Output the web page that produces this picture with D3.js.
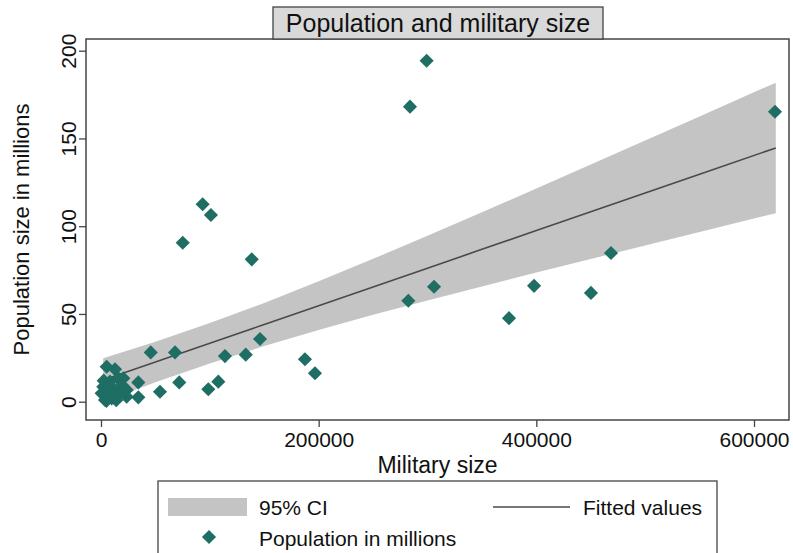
<!DOCTYPE html>
<html>
<head>
<meta charset="utf-8">
<script src="https://cdn.jsdelivr.net/npm/d3@7"></script>
<style>
  body { margin: 0; background: #fff; }
  svg text { font-family: "Liberation Sans", Arial, sans-serif; fill: #111; }
</style>
</head>
<body>
<div id="chart"></div>
<script>
// military size vs population (millions)
const military = [619300, 299200, 283900, 93400, 101000, 75100, 138500, 468600, 397900, 450200,
                  306000, 282400, 374900, 146100, 45700, 68000, 133000, 113900, 187400, 196600,
                  71900, 107800, 98600, 54200, 34300, 34300, 23600, 5200, 12900, 2100,
                  600, 3700, 8300, 11300, 9800, 15900, 19000, 17500, 20500, 6700,
                  5000, 23600, 14000, 7500, 2500];
const population = [165.2, 194.3, 168.1, 112.5, 106.4, 90.6, 81.1, 84.7, 66, 62,
                    65.5, 57.5, 47.6, 35.7, 28.1, 28.1, 26.8, 26, 24.2, 16.2,
                    11, 11.4, 7.1, 5.7, 11, 2.5, 2.8, 19.9, 18.5, 8.5,
                    4.8, 1, 11.4, 6.7, 1.9, 13.3, 9.5, 4.8, 13.3, 6.7,
                    0.5, 6.7, 0.8, 3.5, 12];

// fitted line and 95% CI band
const fitX = [2000, 50000, 100000, 150000, 200000, 250000, 300000, 350000, 400000, 450000, 500000, 550000, 620000];
const fitY = [12.3, 22.6, 33.3, 44.0, 54.7, 65.4, 76.1, 86.8, 97.5, 108.2, 118.9, 129.6, 144.6];
const ciUpper = [24.8, 34.1, 44.8, 56.3, 68.6, 81.4, 94.5, 107.9, 121.5, 135.1, 148.8, 162.5, 181.8];
const ciLower = [-0.2, 11.1, 21.8, 31.7, 40.9, 49.5, 57.7, 65.7, 73.6, 81.3, 89.0, 96.7, 107.4];

const xTicks = [0, 200000, 400000, 600000];
const yTicks = [0, 50, 100, 150, 200];

const points = military.map((m, i) => ({ m: m, p: population[i] }));
const band = fitX.map((f, i) => ({ x: f, lo: ciLower[i], hi: ciUpper[i], y: fitY[i] }));

const width = 793, height = 553;
const plotLeft = 86, plotRight = 789, plotTop = 39, plotBottom = 420;

const svg = d3.select("#chart")
              .append("svg")
              .attr("width", width)
              .attr("height", height);

const x = d3.scaleLinear()
            .domain([0, 600000])
            .range([101, 754]);

const y = d3.scaleLinear()
            .domain([0, 200])
            .range([401.7, 50.7]);

// CI band
svg.append("path")
   .datum(band)
   .attr("fill", "#c4c4c4")
   .attr("d", d3.area().x(d => x(d.x)).y0(d => y(d.lo)).y1(d => y(d.hi)));

// fitted line
svg.append("path")
   .datum(band)
   .attr("fill", "none")
   .attr("stroke", "#4a4a4a")
   .attr("stroke-width", 1.6)
   .attr("d", d3.line().x(d => x(d.x)).y(d => y(d.y)));

// points
const diamond = d3.symbol().type(d3.symbolSquare).size(100);
svg.selectAll("path.pt")
   .data(points)
   .enter()
   .append("path")
   .attr("class", "pt")
   .attr("d", diamond)
   .attr("transform", d => `translate(${x(d.m)},${y(d.p)}) rotate(45)`)
   .attr("fill", "#1f6e64");

// plot frame
svg.append("rect")
   .attr("x", plotLeft)
   .attr("y", plotTop)
   .attr("width", plotRight - plotLeft)
   .attr("height", plotBottom - plotTop)
   .attr("fill", "none")
   .attr("stroke", "#444")
   .attr("stroke-width", 1.5);

// x axis
const xAxis = svg.append("g")
   .attr("transform", `translate(0,${plotBottom})`)
   .call(d3.axisBottom(x).tickValues(xTicks).tickSize(7).tickPadding(5).tickFormat(d3.format("d")));
xAxis.select(".domain").remove();
xAxis.selectAll("line").attr("stroke", "#444").attr("stroke-width", 1.3);
xAxis.selectAll("text").style("font-size", "21px").attr("fill", "#111");

// y axis
const yAxis = svg.append("g")
   .attr("transform", `translate(${plotLeft},0)`)
   .call(d3.axisLeft(y).tickValues(yTicks).tickSize(7).tickFormat(d3.format("d")));
yAxis.select(".domain").remove();
yAxis.selectAll("line").attr("stroke", "#444").attr("stroke-width", 1.3);
yAxis.selectAll("text")
     .style("font-size", "21px")
     .attr("fill", "#111")
     .attr("x", null)
     .attr("dy", null)
     .attr("text-anchor", "middle")
     .attr("transform", "translate(-10,0) rotate(-90)");

// axis titles
svg.append("text")
   .attr("x", (plotLeft + plotRight) / 2)
   .attr("y", 473)
   .attr("text-anchor", "middle")
   .style("font-size", "23px")
   .text("Military size");

svg.append("text")
   .attr("transform", `translate(29,${(plotTop + plotBottom) / 2}) rotate(-90)`)
   .attr("text-anchor", "middle")
   .style("font-size", "22px")
   .text("Population size in millions");

// title box
svg.append("rect")
   .attr("x", 273)
   .attr("y", 7)
   .attr("width", 330)
   .attr("height", 32)
   .attr("fill", "#d9d9d9")
   .attr("stroke", "#444")
   .attr("stroke-width", 1.3);

svg.append("text")
   .attr("x", 438)
   .attr("y", 32)
   .attr("text-anchor", "middle")
   .style("font-size", "25px")
   .text("Population and military size");

// legend
const legend = svg.append("g");
legend.append("rect")
      .attr("x", 158)
      .attr("y", 481)
      .attr("width", 559)
      .attr("height", 90)
      .attr("fill", "#fff")
      .attr("stroke", "#444")
      .attr("stroke-width", 1.3);

legend.append("rect")
      .attr("x", 168)
      .attr("y", 498)
      .attr("width", 79)
      .attr("height", 18)
      .attr("fill", "#c4c4c4");

legend.append("text")
      .attr("x", 259)
      .attr("y", 515)
      .style("font-size", "21px")
      .text("95% CI");

legend.append("line")
      .attr("x1", 493)
      .attr("x2", 570)
      .attr("y1", 507)
      .attr("y2", 507)
      .attr("stroke", "#4a4a4a")
      .attr("stroke-width", 1.6);

legend.append("text")
      .attr("x", 583)
      .attr("y", 515)
      .style("font-size", "21px")
      .text("Fitted values");

legend.append("path")
      .attr("d", diamond)
      .attr("transform", "translate(209,537) rotate(45)")
      .attr("fill", "#1f6e64");

legend.append("text")
      .attr("x", 259)
      .attr("y", 546)
      .style("font-size", "21px")
      .text("Population in millions");
</script>
</body>
</html>
